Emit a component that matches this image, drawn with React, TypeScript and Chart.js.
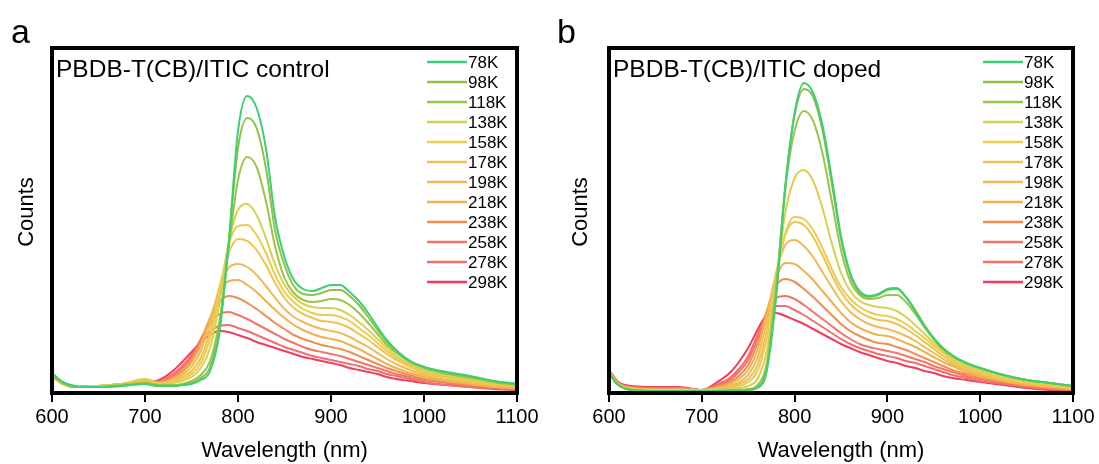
import React, { useEffect, useRef } from 'react';
import { Chart, registerables } from 'chart.js';

Chart.register(...registerables);

// ---------- data ----------
const WAVELENGTHS = [600, 610, 625, 650, 675, 700, 715, 730, 740, 750, 760, 770, 780, 790, 800, 810, 820, 830, 840, 850, 860, 870, 880, 890, 900, 910, 920, 930, 940, 950, 960, 970, 985, 1000, 1025, 1050, 1075, 1100];
const TEMPERATURES = ['78K', '98K', '118K', '138K', '158K', '178K', '198K', '218K', '238K', '258K', '278K', '298K'];
const X_TICKS = [600, 700, 800, 900, 1000, 1100];
const COLORS = ['#3ccf73', '#8fc04a', '#9bc44a', '#d8d04e', '#eccb4f', '#efc350', '#f0b957', '#f1b04f', '#f08d50', '#f27568', '#f36d6d', '#ee3d5d'];

// control film (panel a)
const CONTROL_78K = [20, 12, 7, 6, 7, 9, 7, 7, 8, 9, 13, 22, 60, 150, 262, 297, 285, 245, 175, 136, 113, 104, 102, 105, 108, 108, 101, 92, 80, 66, 53, 43, 32, 26, 21, 17, 12, 9];
const CONTROL_98K = [19, 11, 6, 6, 7, 9, 7, 7, 8, 10, 15, 26, 65, 150, 245, 275, 265, 225, 162, 128, 107, 99, 98, 100, 103, 103, 97, 88, 76, 63, 51, 42, 32, 26, 20, 16, 12, 9];
const CONTROL_118K = [19, 11, 6, 6, 8, 10, 8, 8, 9, 12, 18, 32, 72, 145, 213, 236, 226, 192, 146, 115, 100, 93, 91, 92, 94, 93, 88, 80, 70, 59, 48, 40, 31, 25, 19, 15, 11, 8];
const CONTROL_138K = [18, 11, 6, 7, 9, 13, 9, 10, 12, 16, 25, 45, 90, 150, 183, 189, 178, 155, 128, 108, 96, 89, 86, 85, 85, 83, 78, 71, 63, 54, 45, 37, 29, 23, 17, 13, 10, 7];
const CONTROL_158K = [18, 10, 6, 7, 9, 14, 10, 11, 14, 19, 30, 55, 100, 148, 167, 168, 158, 140, 118, 101, 91, 84, 80, 78, 78, 76, 72, 65, 58, 50, 42, 35, 27, 21, 16, 12, 9, 7];
const CONTROL_178K = [18, 10, 6, 7, 9, 14, 10, 12, 16, 22, 35, 62, 105, 140, 154, 152, 143, 128, 110, 95, 85, 79, 75, 72, 71, 69, 65, 59, 53, 46, 39, 33, 26, 20, 15, 11, 8, 6];
const CONTROL_198K = [18, 10, 6, 7, 9, 13, 10, 13, 18, 26, 42, 70, 105, 125, 129, 126, 118, 107, 95, 84, 76, 71, 67, 64, 62, 60, 56, 51, 46, 40, 34, 29, 23, 18, 13, 10, 7, 5];
const CONTROL_218K = [17, 10, 6, 7, 9, 12, 10, 14, 20, 30, 48, 75, 100, 112, 113, 108, 101, 92, 83, 75, 68, 63, 59, 56, 54, 52, 48, 44, 39, 34, 29, 25, 20, 16, 12, 9, 6, 5];
const CONTROL_238K = [17, 10, 6, 7, 9, 11, 10, 15, 22, 33, 52, 75, 91, 97, 95, 90, 84, 77, 70, 64, 58, 54, 51, 48, 46, 44, 41, 37, 33, 29, 25, 22, 18, 14, 11, 8, 6, 4];
const CONTROL_258K = [17, 10, 6, 7, 9, 11, 11, 17, 25, 36, 54, 70, 79, 81, 78, 74, 69, 64, 59, 54, 50, 46, 43, 41, 39, 37, 34, 31, 28, 25, 22, 19, 16, 13, 10, 7, 5, 4];
const CONTROL_278K = [17, 10, 6, 7, 8, 10, 12, 19, 27, 38, 52, 62, 67, 68, 65, 62, 58, 54, 50, 46, 43, 40, 37, 35, 33, 31, 29, 27, 24, 22, 19, 17, 14, 11, 8, 6, 5, 3];
const CONTROL_298K = [17, 10, 6, 7, 8, 10, 13, 22, 31, 41, 51, 58, 62, 61, 58, 55, 51, 48, 45, 42, 39, 36, 34, 32, 30, 28, 25, 23, 21, 19, 16, 14, 12, 10, 8, 6, 4, 3];

// doped film (panel b)
const DOPED_78K = [20, 8, 3, 2, 2, 2, 2, 2, 2, 3, 5, 22, 95, 205, 280, 310, 300, 268, 215, 157, 120, 102, 97, 99, 104, 105, 96, 82, 66, 54, 44, 37, 30, 25, 18, 13, 10, 7];
const DOPED_98K = [20, 8, 3, 2, 2, 2, 2, 2, 2, 3, 6, 25, 100, 208, 278, 304, 296, 263, 210, 154, 118, 100, 96, 98, 103, 104, 96, 83, 68, 55, 45, 38, 30, 25, 18, 13, 10, 7];
const DOPED_118K = [20, 8, 3, 2, 2, 2, 2, 3, 3, 4, 8, 30, 105, 205, 262, 282, 272, 240, 192, 143, 112, 98, 94, 95, 98, 98, 91, 79, 66, 54, 44, 37, 30, 25, 18, 13, 10, 7];
const DOPED_138K = [20, 8, 4, 3, 3, 3, 3, 4, 5, 7, 14, 42, 110, 180, 215, 223, 212, 185, 150, 120, 102, 92, 88, 86, 85, 82, 76, 68, 59, 50, 42, 35, 28, 23, 17, 12, 9, 6];
const DOPED_158K = [21, 9, 4, 3, 3, 3, 3, 5, 7, 11, 22, 55, 115, 160, 176, 174, 163, 145, 124, 106, 94, 86, 81, 78, 77, 74, 69, 62, 55, 47, 40, 33, 26, 21, 15, 11, 8, 5];
const DOPED_178K = [21, 9, 4, 3, 3, 3, 4, 6, 9, 14, 28, 62, 118, 158, 171, 168, 156, 138, 118, 101, 89, 81, 76, 73, 72, 69, 64, 58, 51, 44, 37, 31, 25, 20, 14, 10, 7, 5];
const DOPED_198K = [21, 9, 4, 3, 3, 3, 4, 7, 11, 18, 35, 72, 120, 148, 153, 147, 136, 121, 106, 92, 81, 74, 69, 66, 64, 61, 57, 52, 46, 40, 34, 29, 23, 18, 13, 9, 7, 4];
const DOPED_218K = [21, 9, 5, 4, 4, 3, 5, 9, 14, 23, 43, 80, 115, 130, 129, 122, 113, 102, 91, 80, 71, 65, 61, 58, 57, 54, 50, 46, 41, 36, 31, 27, 21, 17, 12, 8, 6, 4];
const DOPED_238K = [22, 10, 5, 4, 4, 3, 6, 11, 17, 28, 50, 82, 107, 114, 111, 104, 96, 87, 78, 69, 62, 57, 53, 50, 49, 46, 43, 39, 35, 31, 27, 23, 19, 15, 11, 8, 5, 3];
const DOPED_258K = [22, 10, 6, 5, 5, 3, 7, 13, 21, 33, 55, 80, 95, 97, 94, 88, 81, 74, 67, 60, 54, 49, 46, 44, 42, 40, 37, 34, 31, 27, 24, 21, 17, 14, 10, 7, 5, 3];
const DOPED_278K = [22, 10, 6, 5, 5, 3, 8, 15, 24, 37, 58, 78, 87, 87, 83, 78, 72, 66, 60, 54, 49, 45, 42, 39, 37, 35, 32, 30, 27, 24, 21, 18, 15, 12, 9, 6, 4, 3];
const DOPED_298K = [23, 11, 7, 6, 6, 3, 10, 20, 31, 45, 63, 78, 80, 77, 73, 69, 64, 59, 54, 49, 45, 41, 38, 35, 32, 30, 27, 25, 22, 20, 17, 15, 13, 11, 8, 5, 3, 2];

const CONTROL_SERIES = [CONTROL_78K, CONTROL_98K, CONTROL_118K, CONTROL_138K, CONTROL_158K, CONTROL_178K, CONTROL_198K, CONTROL_218K, CONTROL_238K, CONTROL_258K, CONTROL_278K, CONTROL_298K];
const DOPED_SERIES = [DOPED_78K, DOPED_98K, DOPED_118K, DOPED_138K, DOPED_158K, DOPED_178K, DOPED_198K, DOPED_218K, DOPED_238K, DOPED_258K, DOPED_278K, DOPED_298K];

const FONT = "'Liberation Sans', Arial, Helvetica, sans-serif";

const framePlugin = {
  id: 'frame',
  afterDatasetsDraw(chart: any) {
    const { ctx, chartArea } = chart;
    const { left, right, top, bottom } = chartArea;
    ctx.save();
    ctx.strokeStyle = '#000';
    ctx.lineWidth = 4;
    ctx.strokeRect(left, top, right - left, bottom - top);
    ctx.restore();
  },
  afterDraw(chart: any, _args: any, opts: any) {
    const { ctx, chartArea } = chart;
    const { left, right, top } = chartArea;
    ctx.save();
    // in-plot legend
    chart.data.datasets.forEach((ds: any, i: number) => {
      const y = top + 14 + i * 20;
      ctx.strokeStyle = ds.borderColor;
      ctx.lineWidth = 2.5;
      ctx.beginPath();
      ctx.moveTo(right - 90, y);
      ctx.lineTo(right - 50, y);
      ctx.stroke();
      ctx.fillStyle = '#000';
      ctx.font = `17px ${FONT}`;
      ctx.textBaseline = 'middle';
      ctx.textAlign = 'left';
      ctx.fillText(ds.label, right - 49, y + 1);
    });
    // sample title
    ctx.fillStyle = '#000';
    ctx.font = `24.5px ${FONT}`;
    ctx.textBaseline = 'alphabetic';
    ctx.textAlign = 'left';
    ctx.fillText(opts.title, left + 4, top + 29);
    // panel letter
    ctx.font = `34px ${FONT}`;
    ctx.fillText(opts.letter, opts.letterX, 43);
    // y axis title
    ctx.translate(opts.countsX, 212);
    ctx.rotate(-Math.PI / 2);
    ctx.font = `22px ${FONT}`;
    ctx.textAlign = 'center';
    ctx.textBaseline = 'middle';
    ctx.fillText('Counts', 0, 0);
    ctx.restore();
  },
};

type PanelProps = {
  series: number[][];
  title: string;
  letter: string;
  width: number;
  axisWidth: number;
  rightPad: number;
  countsX: number;
  letterX: number;
};

function Panel({ series, title, letter, width, axisWidth, rightPad, countsX, letterX }: PanelProps) {
  const ref = useRef<HTMLCanvasElement | null>(null);
  useEffect(() => {
    if (!ref.current) return;
    const chart = new Chart(ref.current, {
      type: 'line',
      data: {
        datasets: series.map((vals, i) => ({
          label: TEMPERATURES[i],
          data: WAVELENGTHS.map((w, j) => ({ x: w, y: vals[j] })),
          borderColor: COLORS[i],
          backgroundColor: COLORS[i],
          borderWidth: 2,
          pointRadius: 0,
          cubicInterpolationMode: 'monotone',
          fill: false,
        })),
      },
      options: {
        animation: false,
        responsive: false,
        events: [],
        layout: { padding: { left: 0, right: rightPad, top: 48, bottom: 0 } },
        plugins: {
          legend: { display: false },
          tooltip: { enabled: false },
          frame: { title, letter, letterX, countsX },
        } as any,
        scales: {
          x: {
            type: 'linear',
            min: 600,
            max: 1100,
            afterBuildTicks: (s: any) => {
              s.ticks = X_TICKS.map((v) => ({ value: v }));
            },
            afterFit: (s: any) => {
              s.height = 71;
            },
            grid: { drawOnChartArea: false, drawTicks: true, tickLength: 9, color: '#000', lineWidth: 2 },
            border: { display: false },
            ticks: {
              color: '#000',
              font: { family: FONT, size: 20 },
              padding: 3,
              maxRotation: 0,
              autoSkip: false,
              callback: (v: any) => String(v),
            },
            title: {
              display: true,
              text: 'Wavelength (nm)',
              color: '#000',
              font: { family: FONT, size: 22 },
              padding: { top: 0, bottom: 0 },
            },
          },
          y: {
            min: 0,
            max: 345,
            afterFit: (s: any) => {
              s.width = axisWidth;
            },
            ticks: { display: false },
            grid: { display: false },
            border: { display: false },
            title: { display: false },
          },
        },
      } as any,
      plugins: [framePlugin],
    });
    return () => chart.destroy();
  }, []);
  return <canvas ref={ref} width={width} height={464} style={{ display: 'block' }} />;
}

export default function App() {
  return (
    <div style={{ position: 'absolute', left: 0, top: 0, width: 1099, height: 464, display: 'flex', background: '#fff' }}>
      <Panel series={CONTROL_SERIES} title="PBDB-T(CB)/ITIC control" letter="a" width={549} axisWidth={52} rightPad={32} countsX={27} letterX={11} />
      <Panel series={DOPED_SERIES} title="PBDB-T(CB)/ITIC doped" letter="b" width={550} axisWidth={60} rightPad={26} countsX={32} letterX={8} />
    </div>
  );
}
